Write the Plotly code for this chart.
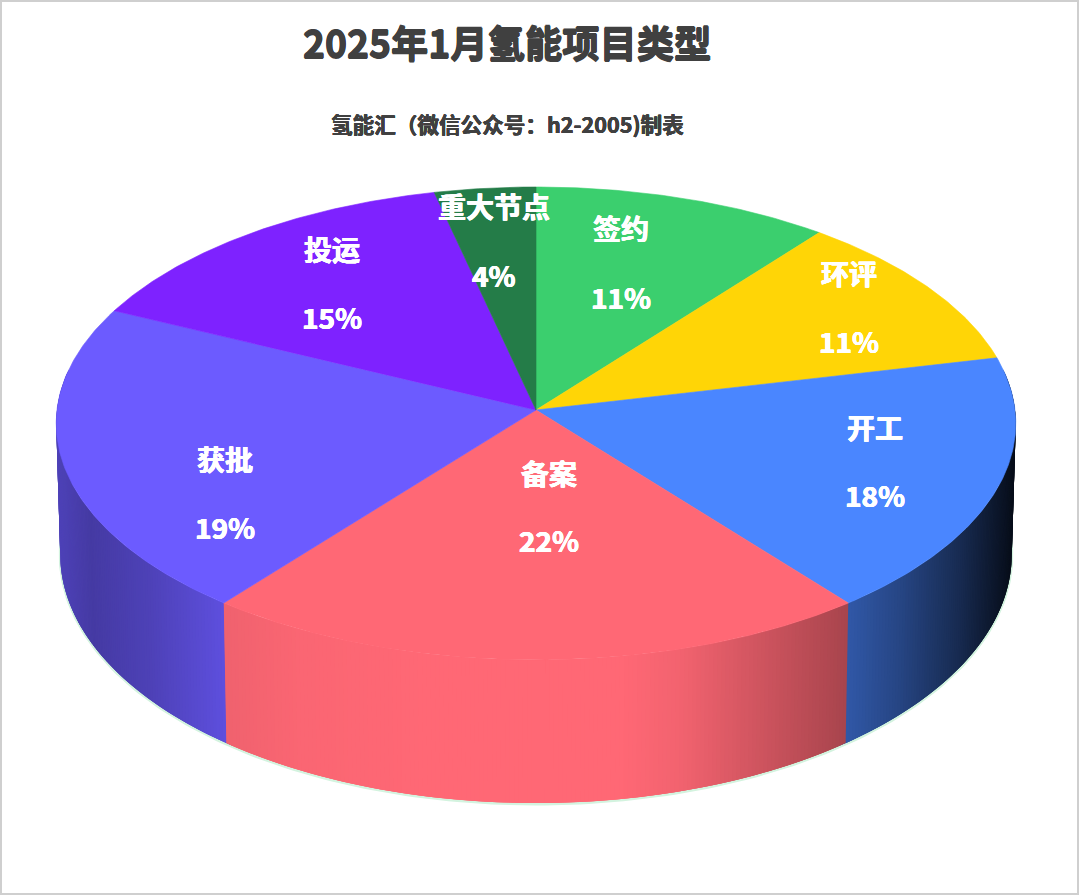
import numpy as np
import plotly.graph_objects as go

# ---- data -----------------------------------------------------------------
categories = ["签约", "环评", "开工", "备案", "获批", "投运", "重大节点"]
shares = [10.6, 10.8, 17.9, 21.4, 21.4, 14.3, 3.6]      # drawn angular share
pct_labels = ["11%", "11%", "18%", "22%", "19%", "15%", "4%"]
colors = ["#3bcf6e", "#ffd506", "#4a86ff", "#ff6875", "#6c5bff", "#7e22ff", "#247c48"]

title_text = "2025年1月氢能项目类型"
subtitle_text = "氢能汇（微信公众号：h2-2005)制表"

# ---- layout constants -------------------------------------------------------
W, H = 1080, 896
CX = 536
TOP = dict(cy=410.0, rx=479.0, ry=235.7, k=0.057)
BOT = dict(cy=540.0, rx=475.0, ry=248.0, k=0.057)
LABEL_XY = [(621, 228, 297), (849, 273, 341), (875, 427, 495), (549, 473, 540),
            (225, 459, 527), (332, 249, 317), (494, 206, 275)]
FONT = "Noto Sans CJK SC"


def project(theta_deg, p, r=1.0):
    th = np.radians(theta_deg)
    u, v = r * np.sin(th), r * np.cos(th)
    d = 1 + p["k"] * v
    return CX + p["rx"] * u / d, p["cy"] - p["ry"] * v / d


edges = np.cumsum([0] + shares) / sum(shares) * 360.0
seam_x = project(edges[4], TOP)[0]   # red / violet seam on the wall

# screen x -> brightness of the cylinder wall (steps at the red / violet seam)
shade_x = [57, 90, 150, seam_x, seam_x + 0.01, 300, 430, 620, 680, 750, 847, 900, 960, 1015]
shade_f = [0.72, 0.64, 0.72, 0.87, 0.94, 0.98, 1.00, 1.00, 0.95, 0.83, 0.66, 0.52, 0.32, 0.10]


def shade(hex_color, x):
    f = np.interp(x, shade_x, shade_f)
    c = [int(hex_color[i:i + 2], 16) for i in (1, 3, 5)]
    return "rgb(%d,%d,%d)" % tuple(int(round(a * f)) for a in c)


fig = go.Figure()


def poly(xs, ys, fill, width=0.0):
    fig.add_trace(go.Scatter(
        x=xs, y=ys, mode="lines", fill="toself", fillcolor=fill,
        line=dict(color=fill, width=width),
        hoverinfo="skip", showlegend=False))


# pale green glow under the lower rim
glow = np.arange(80, 280.5, 1.0)
gx, gy = project(glow, BOT)
fig.add_trace(go.Scatter(x=gx, y=gy + 1, mode="lines",
                         line=dict(color="#d3f3df", width=3),
                         hoverinfo="skip", showlegend=False))

# wall: narrow columns, outer ones first; each column reaches under its inner neighbour
step = 0.5
overlap = 1.0
walls = []
for i, col in enumerate(colors):
    a, b = edges[i], edges[i + 1]
    lo, hi = max(a, 80.0), min(b, 280.0)
    t = lo
    while t < hi - 1e-9:
        t2 = min(t + step, hi)
        walls.append((abs((t + t2) / 2 - 180), t, t2, col, (t + t2) / 2))
        t = t2
for _, t, t2, col, mid in sorted(walls, key=lambda w: -w[0]):
    t0, t1 = (t, t2 + overlap) if mid < 180 else (t - overlap, t2)
    t0, t1 = max(t0, 80.0), min(t1, 280.0)
    x1, y1 = project(np.array([t0, t1]), TOP)
    x2, y2 = project(np.array([t1, t0]), BOT)
    xm = project(mid, TOP)[0]
    poly(np.r_[x1, x2, x1[0]], np.r_[y1, y2, y1[0]], shade(col, xm))

# top face
for i, col in enumerate(colors):
    th = np.linspace(edges[i], edges[i + 1], max(int(edges[i + 1] - edges[i]) * 2, 8))
    x, y = project(th, TOP)
    ax, ay = project(0.0, TOP, 0.0)
    poly(np.r_[ax, x, ax], np.r_[ay, y, ay], col, 0.6)


def heavy(color, px):
    return ", ".join("%gpx %gpx 0 %s" % (dx, dy, color)
                     for dx, dy in ((px, 0), (-px, 0), (0, px), (0, -px)))


annotations = [
    dict(x=507, y=42, text="<b>%s</b>" % title_text,
         font=dict(size=37.3, color="#404040", family=FONT, weight=900, shadow=heavy("#404040", 0.6))),
    dict(x=507.5, y=123, text="<b>%s</b>" % subtitle_text,
         font=dict(size=21.6, color="#404040", family=FONT, weight=900, shadow=heavy("#404040", 0.3))),
]
for name, pct, (lx, y1, y2) in zip(categories, pct_labels, LABEL_XY):
    for txt, yy in ((name, y1), (pct, y2)):
        annotations.append(dict(x=lx, y=yy, text="<b>%s</b>" % txt,
                                font=dict(size=28, color="#ffffff", family=FONT, weight=900,
                                          shadow=heavy("#ffffff", 0.4))))
for a in annotations:
    a.update(xref="x", yref="y", showarrow=False, xanchor="center", yanchor="middle")

fig.update_layout(
    width=W, height=H, margin=dict(l=0, r=0, t=0, b=0),
    paper_bgcolor="#ffffff", plot_bgcolor="#ffffff", showlegend=False,
    xaxis=dict(range=[0, W], visible=False, fixedrange=True),
    yaxis=dict(range=[H, 0], visible=False, fixedrange=True),
    annotations=annotations,
    shapes=[dict(type="rect", x0=1, y0=1, x1=1078, y1=894,
                 line=dict(color="#cfcfcf", width=2), layer="below")],
)
fig.write_html("out.html", config=dict(displayModeBar=False),
               post_script="document.body.style.margin='0';document.body.style.overflow='hidden';")
